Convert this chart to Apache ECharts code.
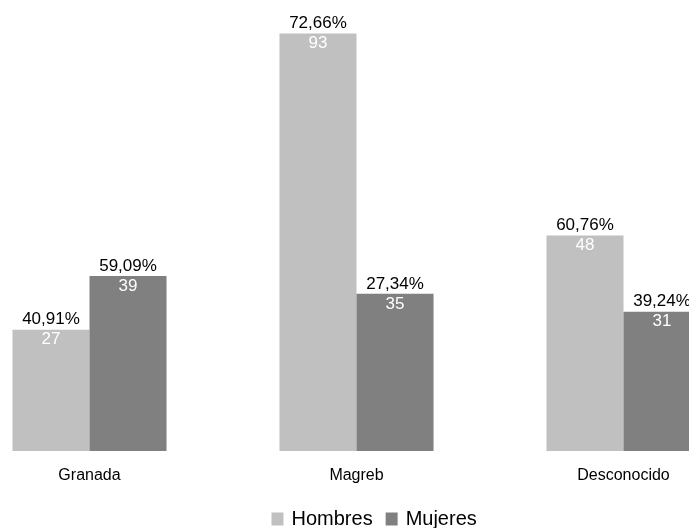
<!DOCTYPE html>
<html><head><meta charset="utf-8">
<script src="https://cdn.jsdelivr.net/npm/echarts@6/dist/echarts.min.js"></script>
<style>html,body{margin:0;padding:0;background:#fff;overflow:hidden}#c{width:801px;height:528px;margin-left:-44.5px}</style>
</head><body><div id="c"></div>
<script>
const categories = ['Granada', 'Magreb', 'Desconocido'];
const hombres = [27, 93, 48];
const mujeres = [39, 35, 31];
const hombresPct = ['40,91%', '72,66%', '60,76%'];
const mujeresPct = ['59,09%', '27,34%', '39,24%'];

function lbl(pcts) {
  return {
    show: true,
    position: 'insideTop',
    distance: 0,
    offset: [0, -20],
    formatter: p => '{p|' + pcts[p.dataIndex] + '}\n{v|' + p.value + '}',
    rich: {
      p: { color: '#000', fontSize: 17, fontFamily: 'Liberation Sans', lineHeight: 20 },
      v: { color: '#fff', fontSize: 17, fontFamily: 'Liberation Sans', lineHeight: 20 }
    }
  };
}
const chart = echarts.init(document.getElementById('c'));
chart.setOption({
  animation: false,
  textStyle: { fontFamily: 'Liberation Sans' },
  grid: { left: 0, right: 0, top: 2, bottom: 77, containLabel: false },
  legend: {
    top: 509, left: 315.5, itemWidth: 12, itemHeight: 13, itemGap: 13,
    icon: 'rect', padding: 0,
    textStyle: { fontSize: 20, color: '#000', fontFamily: 'Liberation Sans', padding: [0, 0, 0, 3] },
    data: ['Hombres', 'Mujeres']
  },
  xAxis: {
    type: 'category', data: categories,
    axisLine: { show: false }, axisTick: { show: false },
    axisLabel: { color: '#000', fontSize: 16, margin: 17, fontFamily: 'Liberation Sans' }
  },
  yAxis: { type: 'value', min: 0, max: 100, show: false, splitLine: { show: false } },
  series: [
    { name: 'Hombres', type: 'bar', data: hombres, barCategoryGap: '42.3%', barGap: '0%',
      itemStyle: { color: '#C0C0C0' }, label: lbl(hombresPct) },
    { name: 'Mujeres', type: 'bar', data: mujeres, barCategoryGap: '42.3%', barGap: '0%',
      itemStyle: { color: '#808080' }, label: lbl(mujeresPct) }
  ]
});
</script></body></html>
